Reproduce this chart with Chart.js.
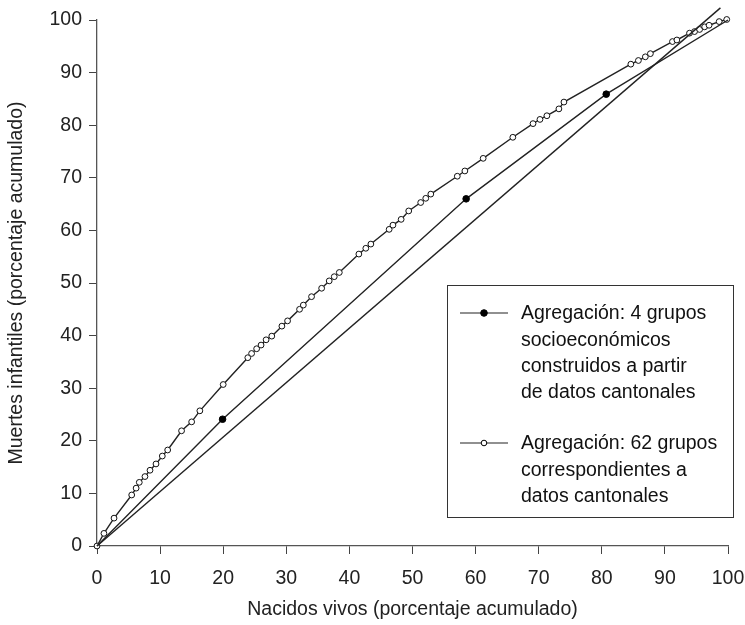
<!DOCTYPE html>
<html>
<head>
<meta charset="utf-8">
<script src="https://cdn.jsdelivr.net/npm/chart.js@4.4.1/dist/chart.umd.min.js"></script>
<style>
html,body{margin:0;padding:0;background:#fff;}
#wrap{width:745px;height:625px;}
</style>
</head>
<body>
<div id="wrap"><canvas id="c" width="745" height="625"></canvas></div>
<script>
// Data (cumulative percentages)
const tickValues = [0,10,20,30,40,50,60,70,80,90,100];
const equalityX = [0, 98.8];
const equalityY = [0, 102.3];
const grupos4X = [0, 19.9, 58.5, 80.7, 100];
const grupos4Y = [0, 24.1, 66.0, 85.9, 100];
const grupos62X = [0,1.1,2.7,5.5,6.2,6.7,7.6,8.4,9.35,10.35,11.2,13.4,15.0,16.3,20.0,23.9,24.5,25.3,26.0,26.8,27.7,29.3,30.2,32.1,32.7,34.0,35.6,36.8,37.6,38.4,41.5,42.6,43.4,46.3,46.9,48.2,49.4,51.3,52.1,52.9,57.1,58.3,61.2,65.9,69.1,70.2,71.3,73.2,74.0,84.6,85.8,86.9,87.7,91.2,91.9,93.9,94.7,95.5,96.3,97.0,98.6,99.8];
const grupos62Y = [0,2.4,5.3,9.7,11.0,12.1,13.2,14.4,15.6,17.1,18.25,21.9,23.6,25.7,30.7,35.8,36.6,37.5,38.2,39.2,39.9,41.8,42.8,45.0,45.8,47.4,49.0,50.4,51.2,52.0,55.5,56.6,57.4,60.2,61.0,62.1,63.7,65.3,66.1,66.9,70.3,71.3,73.7,77.7,80.3,81.1,81.8,83.1,84.4,91.6,92.3,93.0,93.6,95.9,96.2,97.5,97.8,98.2,98.7,99.0,99.7,100.1];
const legendLabels = [
  ["Agregación: 4 grupos","socioeconómicos","construidos a partir","de datos cantonales"],
  ["Agregación: 62 grupos","correspondientes a","datos cantonales"]
];
const xTitle = "Nacidos vivos (porcentaje acumulado)";
const yTitle = "Muertes infantiles (porcentaje acumulado)";

const FONT = "'Liberation Sans', Arial, Helvetica, sans-serif";
const FS = 19.5;
const INK = '#222';

function pts(xs, ys){ return xs.map((x,i)=>({x:x, y:ys[i]})); }

const legendPlugin = {
  id: 'boxLegend',
  afterDraw(chart){
    const ctx = chart.ctx;
    const bx = 447, by = 285, bw = 286, bh = 232;
    ctx.save();
    ctx.strokeStyle = '#333';
    ctx.lineWidth = 1;
    ctx.strokeRect(bx+0.5, by+0.5, bw, bh);
    ctx.font = FS + 'px ' + FONT;
    ctx.fillStyle = '#111';
    ctx.textBaseline = 'middle';
    ctx.textAlign = 'left';
    const starts = [313, 443];
    const lh = 26.3;
    legendLabels.forEach((lines, k) => {
      const y0 = starts[k];
      ctx.beginPath();
      ctx.strokeStyle = INK;
      ctx.lineWidth = 1.2;
      ctx.moveTo(460, y0); ctx.lineTo(508, y0);
      ctx.stroke();
      ctx.beginPath();
      ctx.arc(484, y0, k === 0 ? 3.3 : 2.8, 0, Math.PI*2);
      ctx.fillStyle = k === 0 ? '#000' : '#fff';
      ctx.fill();
      ctx.lineWidth = 1;
      ctx.strokeStyle = '#000';
      ctx.stroke();
      ctx.fillStyle = '#111';
      lines.forEach((t, j) => ctx.fillText(t, 521, y0 + j*lh + 1));
    });
    ctx.restore();
  }
};

new Chart(document.getElementById('c'), {
  type: 'scatter',
  data: {
    datasets: [
      { data: pts(equalityX, equalityY), showLine: true, borderColor: INK, borderWidth: 1.4,
        pointRadius: 0, clip: false },
      { data: pts(grupos4X, grupos4Y), showLine: true, borderColor: INK, borderWidth: 1.4,
        pointRadius: [0,3.3,3.3,3.3,0], pointBackgroundColor: '#000', pointBorderColor: '#000',
        pointBorderWidth: 1, clip: false },
      { data: pts(grupos62X, grupos62Y), showLine: true, borderColor: INK, borderWidth: 1.4,
        pointRadius: 2.9, pointBackgroundColor: '#fff', pointBorderColor: '#111',
        pointBorderWidth: 1, clip: false }
    ]
  },
  options: {
    responsive: false,
    animation: false,
    devicePixelRatio: 1,
    layout: { padding: { left: 0, top: 20, right: 17, bottom: 0 } },
    plugins: { legend: { display: false }, tooltip: { enabled: false } },
    scales: {
      x: {
        type: 'linear', min: 0, max: 100,
        afterBuildTicks: s => { s.ticks = tickValues.map(v => ({value: v})); },
        afterFit: s => { s.height = 79; s.paddingLeft = 0; s.paddingRight = 0; },
        grid: { drawOnChartArea: false, drawTicks: true, tickLength: 8, color: '#444', lineWidth: 1 },
        border: { display: true, color: '#555', width: 1.3 },
        ticks: { color: '#222', font: { family: FONT, size: FS }, padding: 13, maxRotation: 0 },
        title: { display: true, text: xTitle, color: '#222', font: { family: FONT, size: FS }, padding: { top: 0, bottom: 4 } }
      },
      y: {
        type: 'linear', min: 0, max: 100,
        afterBuildTicks: s => { s.ticks = tickValues.map(v => ({value: v})); },
        afterFit: s => { s.width = 97; s.paddingTop = 0; s.paddingBottom = 0; },
        grid: { drawOnChartArea: false, drawTicks: true, tickLength: 8, color: '#444', lineWidth: 1 },
        border: { display: true, color: '#555', width: 1.3 },
        ticks: { color: '#222', font: { family: FONT, size: FS }, padding: 7 },
        title: { display: true, text: yTitle, color: '#222', font: { family: FONT, size: FS }, padding: { top: 5, bottom: 0 } }
      }
    }
  },
  plugins: [legendPlugin]
});
</script>
</body>
</html>
